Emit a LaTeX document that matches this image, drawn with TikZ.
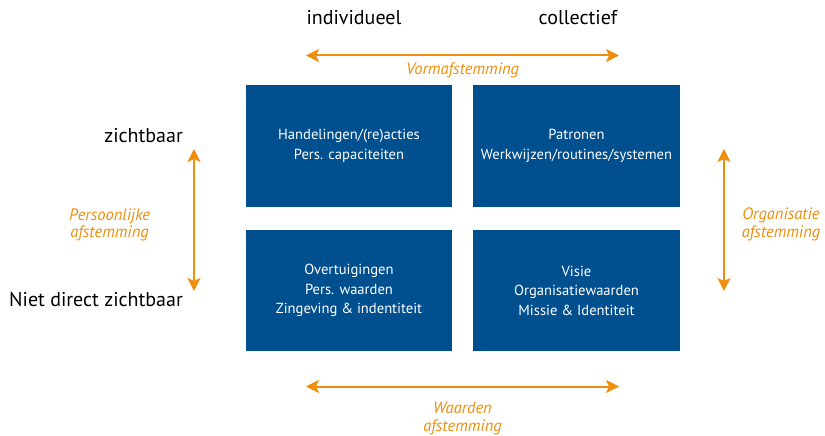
\documentclass[tikz,border=0pt]{standalone}
\usepackage{fontspec}
\setmainfont{PT Sans}
\usetikzlibrary{arrows.meta}
\definecolor{boxblue}{HTML}{004F8F}
\definecolor{tuneorange}{HTML}{EF8E0C}
\begin{document}
\begin{tikzpicture}[x=1pt,y=-1pt,
  quad/.style={fill=boxblue, draw=none, text=white, align=center,
    font=\fontsize{14.6}{19.5}\selectfont, inner sep=0pt},
  heading/.style={text=black, font=\fontsize{20}{22}\selectfont, inner sep=0pt},
  tune/.style={text=tuneorange, align=center,
    font=\fontsize{16.5}{17.5}\selectfont\itshape, inner sep=0pt},
  tunearrow/.style={draw=tuneorange, line width=2pt,
    {Stealth[length=13pt,width=13pt,inset=3pt]}-{Stealth[length=13pt,width=13pt,inset=3pt]}}]
\useasboundingbox (0,0) rectangle (825,436);

% four quadrants
\node[quad, minimum width=206pt, minimum height=122pt] (hand) at (349,146)
  {Handelingen/(re)acties\\Pers. capaciteiten};
\node[quad, minimum width=207pt, minimum height=122pt] (patr) at (576.5,146)
  {Patronen\\Werkwijzen/routines/systemen};
\node[quad, minimum width=206pt, minimum height=121pt] (over) at (349,290.5)
  {Overtuigingen\\Pers. waarden\\Zingeving \& indentiteit};
\node[quad, minimum width=207pt, minimum height=121pt] (visie) at (576.5,290.5)
  {Visie\\Organisatiewaarden\\Missie \& Identiteit};

% axis headings
\node[heading] (indiv) at (354,18) {individueel};
\node[heading] (coll) at (578,18) {collectief};
\node[heading, anchor=east] (zicht) at (183,136) {zichtbaar};
\node[heading, anchor=east] (niet) at (183,300) {Niet direct zichtbaar};

% arrow end points
\coordinate (vl) at (306,55.5);  \coordinate (vr) at (619,55.5);
\coordinate (wl) at (306,386.5); \coordinate (wr) at (619,386.5);
\coordinate (pt) at (194,149);   \coordinate (pb) at (194,291);
\coordinate (ot) at (724,149);   \coordinate (ob) at (724,291);

\draw[tunearrow] (vl) -- (vr);
\draw[tunearrow] (wl) -- (wr);
\draw[tunearrow] (pt) -- (pb);
\draw[tunearrow] (ot) -- (ob);

% arrow labels
\node[tune] (vorm) at (462.5,70) {Vormafstemming};
\node[tune] (waard) at (462.5,418.5) {Waarden\\afstemming};
\node[tune] (pers) at (109.5,225) {Persoonlijke\\afstemming};
\node[tune] (org) at (781,224.5) {Organisatie\\afstemming};
\end{tikzpicture}
\end{document}
